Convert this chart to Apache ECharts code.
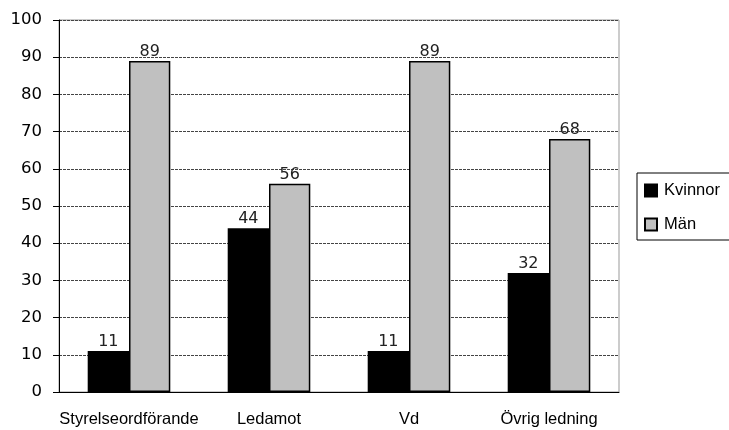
<!DOCTYPE html>
<html>
<head>
<meta charset="utf-8">
<script src="https://cdn.jsdelivr.net/npm/echarts@6/dist/echarts.min.js"></script>
<style>
  html, body { margin: 0; padding: 0; background: #fff; }
  #chart { width: 729px; height: 430px; }
</style>
</head>
<body>
<div id="chart"></div>
<script>
var categories = ['Styrelseordförande', 'Ledamot', 'Vd', 'Övrig ledning'];
var kvinnor = [11, 44, 11, 32];
var man = [89, 56, 89, 68];
var seriesNames = ['Kvinnor', 'Män'];

var myChart = echarts.init(document.getElementById('chart'));
myChart.setOption({
    animation: false,
    backgroundColor: '#fff',
    grid: {
        left: 59, right: 110, top: 20, bottom: 38,
        show: true, borderColor: '#999', borderWidth: 1
    },
    legend: {
        orient: 'vertical',
        left: 637, top: 173,
        padding: [9, 30, 7, 7],
        itemGap: 17,
        itemWidth: 12, itemHeight: 12,
        borderColor: '#000', borderWidth: 1,
        icon: 'rect',
        textStyle: { fontFamily: 'Liberation Sans', fontSize: 16.5, color: '#000', padding: [0, 0, 0, 2] },
        data: seriesNames
    },
    xAxis: {
        type: 'category',
        data: categories,
        axisLine: { lineStyle: { color: '#000', width: 1 } },
        axisTick: { length: 6, lineStyle: { color: '#000' } },
        axisLabel: { interval: 0, fontFamily: 'Liberation Sans', fontSize: 16.5, color: '#000', margin: 19 }
    },
    yAxis: {
        type: 'value',
        min: 0, max: 100, interval: 10,
        axisLine: { show: true, lineStyle: { color: '#000', width: 1 } },
        axisTick: { show: true, length: 6, lineStyle: { color: '#000' } },
        axisLabel: { fontFamily: 'DejaVu Sans', fontSize: 16.5, color: '#000', margin: 17 },
        splitLine: { lineStyle: { color: '#444', type: [3, 1], width: 1 } }
    },
    series: [
        {
            name: seriesNames[0],
            type: 'bar',
            data: kvinnor,
            barGap: '0%',
            barCategoryGap: '41%',
            itemStyle: { color: '#000', borderColor: '#000', borderWidth: 1.5 },
            label: { show: true, position: 'top', fontFamily: 'DejaVu Sans', fontSize: 16, color: '#222', distance: 1 }
        },
        {
            name: seriesNames[1],
            type: 'bar',
            data: man,
            itemStyle: { color: '#c0c0c0', borderColor: '#000', borderWidth: 1.5 },
            label: { show: true, position: 'top', fontFamily: 'DejaVu Sans', fontSize: 16, color: '#222', distance: 1 }
        }
    ]
});
</script>
</body>
</html>
